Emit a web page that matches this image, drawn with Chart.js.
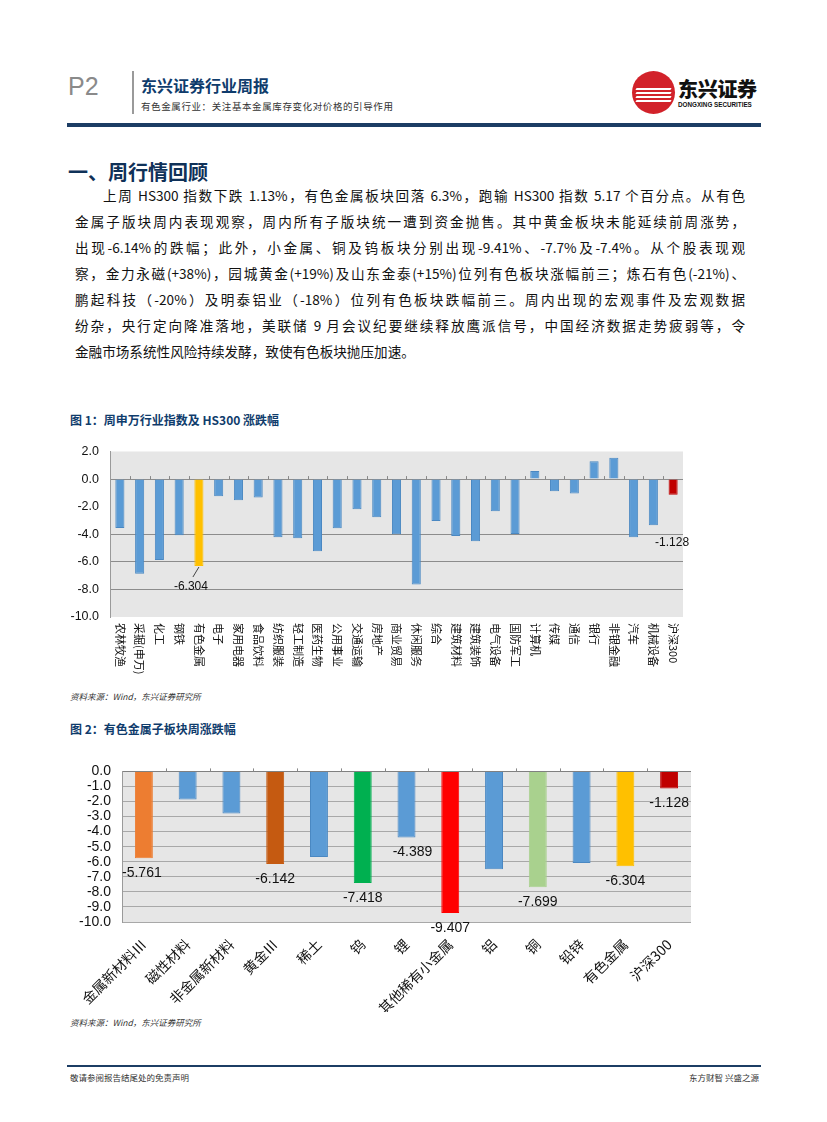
<!DOCTYPE html>
<html>
<head>
<meta charset="utf-8">
<script src="https://cdn.jsdelivr.net/npm/chart.js@4.4.1/dist/chart.umd.min.js"></script>
<style>
  body { margin: 0; background: #fff; font-family: "Noto Sans CJK SC", sans-serif; }
  .page { position: relative; width: 827px; height: 1122px; overflow: hidden; }
  .abs { position: absolute; white-space: nowrap; }
  .p2 { left: 68px; top: 72px; font: 300 25px "Liberation Sans", sans-serif; color: #8a8a8a; }
  .vbar { left: 132px; top: 71px; width: 2px; height: 43px; background: #9a9a9a; }
  .brand { left: 141px; top: 73px; font-size: 16px; font-weight: bold; color: #0f3c6c; }
  .sub { left: 141px; top: 99px; font-size: 9.5px; color: #333; letter-spacing: 0.6px; }
  .navy { left: 67px; top: 123px; width: 694px; height: 4px; background: #1c3d64; }
  .logo { left: 632px; top: 71px; width: 43px; height: 43px; border-radius: 50%; background: #d2222a; overflow: hidden; }
  .logo i { position: absolute; left: 4px; width: 35px; height: 2px; background: #fff; transform: skewX(-30deg); }
  .logotxt { left: 678px; top: 74px; font-size: 20px; font-weight: 900; color: #111; letter-spacing: -0.3px; }
  .logoen { left: 678px; top: 101px; font: bold 6.3px "Liberation Sans", sans-serif; color: #111; }
  .h1 { left: 68px; top: 157px; font-size: 20px; font-weight: bold; color: #0f3158; }
  .para { left: 75px; width: 670px; font-size: 13.6px; color: #111; text-align: justify; text-align-last: justify; line-height: 20px; }
  .fig { font-size: 12px; font-weight: bold; color: #0f3c6c; }
  .src { font-size: 8.5px; font-style: italic; color: #333; }
  .foot { top: 1065px; left: 67px; width: 694px; height: 2px; background: #1c3d64; }
  .ftxt { top: 1071px; font-size: 8.5px; color: #333; }
  canvas { position: absolute; }
</style>
</head>
<body>
<div class="page">
  <div class="abs p2">P2</div>
  <div class="abs vbar"></div>
  <div class="abs brand">东兴证券行业周报</div>
  <div class="abs sub">有色金属行业：关注基本金属库存变化对价格的引导作用</div>
  <div class="abs logo"><i style="top:17px"></i><i style="top:21px"></i><i style="top:25px"></i><i style="top:29px"></i></div>
  <div class="abs logotxt">东兴证券</div>
  <div class="abs logoen">DONGXING SECURITIES</div>
  <div class="abs navy"></div>

  <div class="abs h1">一、周行情回顾</div>

  <div class="abs para" style="top:185px;left:103px;width:642px">上周 HS300 指数下跌 1.13%，有色金属板块回落 6.3%，跑输 HS300 指数 5.17 个百分点。从有色</div>
  <div class="abs para" style="top:211px">金属子版块周内表现观察，周内所有子版块统一遭到资金抛售。其中黄金板块未能延续前周涨势，</div>
  <div class="abs para" style="top:237px">出现-6.14%的跌幅；此外，小金属、铜及钨板块分别出现-9.41%、-7.7%及-7.4%。从个股表现观</div>
  <div class="abs para" style="top:263px">察，金力永磁(+38%)，园城黄金(+19%)及山东金泰(+15%)位列有色板块涨幅前三；炼石有色(-21%)、</div>
  <div class="abs para" style="top:289px">鹏起科技（-20%）及明泰铝业（-18%）位列有色板块跌幅前三。周内出现的宏观事件及宏观数据</div>
  <div class="abs para" style="top:315px">纷杂，央行定向降准落地，美联储 9 月会议纪要继续释放鹰派信号，中国经济数据走势疲弱等，令</div>
  <div class="abs para" style="top:341px;text-align-last:left">金融市场系统性风险持续发酵，致使有色板块抛压加速。</div>

  <div class="abs fig" style="left:70px;top:411px">图 1：周申万行业指数及 HS300 涨跌幅</div>
  <canvas id="chart1" width="630" height="254" style="left:60px;top:433px;width:630px;height:254px"></canvas>
  <div class="abs src" style="left:70px;top:690px">资料来源：Wind，东兴证券研究所</div>

  <div class="abs fig" style="left:70px;top:720px">图 2：有色金属子板块周涨跌幅</div>
  <canvas id="chart2" width="640" height="260" style="left:60px;top:752px;width:640px;height:260px"></canvas>
  <div class="abs src" style="left:70px;top:1016px">资料来源：Wind，东兴证券研究所</div>

  <div class="abs foot"></div>
  <div class="abs ftxt" style="left:70px">敬请参阅报告结尾处的免责声明</div>
  <div class="abs ftxt" style="right:68px">东方财智 兴盛之源</div>
</div>

<script>
// 图1 数据
const industryLabels = ['农林牧渔', '采掘(申万)', '化工', '钢铁', '有色金属', '电子', '家用电器', '食品饮料',
  '纺织服装', '轻工制造', '医药生物', '公用事业', '交通运输', '房地产', '商业贸易', '休闲服务', '综合',
  '建筑材料', '建筑装饰', '电气设备', '国防军工', '计算机', '传媒', '通信', '银行', '非银金融', '汽车',
  '机械设备', '沪深300'];
const industryChange = [-3.54, -6.87, -5.86, -4.07, -6.304, -1.25, -1.54, -1.33, -4.22, -4.29, -5.23, -3.57,
  -2.19, -2.77, -4.00, -7.65, -3.04, -4.12, -4.50, -2.34, -3.98, 0.58, -0.89, -1.04, 1.30, 1.54, -4.22,
  -3.35, -1.128];
const industryTicks = [2, 0, -2, -4, -6, -8, -10];

// 图2 数据
const subLabels = ['金属新材料Ⅲ', '磁性材料', '非金属新材料', '黄金Ⅲ', '稀土', '钨', '锂', '其他稀有小金属',
  '铝', '铜', '铅锌', '有色金属', '沪深300'];
const subChange = [-5.761, -1.86, -2.80, -6.142, -5.68, -7.418, -4.389, -9.407, -6.49, -7.699, -6.08, -6.304, -1.128];
const subShowValue = [true, false, false, true, false, true, true, true, false, true, false, true, true];
const subTicks = [0, -1, -2, -3, -4, -5, -6, -7, -8, -9, -10];

const blue = '#5B9BD5';
const industryColors = industryLabels.map(l => l === '有色金属' ? '#FFC000' : (l === '沪深300' ? '#C00000' : blue));
const subColors = ['#ED7D31', blue, blue, '#C55A11', blue, '#00B050', blue, '#FF0000', blue, '#A9D18E', blue, '#FFC000', '#C00000'];

const plotBg = {
  id: 'plotBg',
  beforeDraw(chart) {
    const a = chart.chartArea, c = chart.ctx;
    c.save();
    c.fillStyle = '#e6e6e6';
    c.fillRect(a.left, a.top, a.right - a.left, a.bottom - a.top);
    c.restore();
  }
};

// 0 轴上类目分隔小刻度
const zeroTicks = {
  id: 'zeroTicks',
  afterDatasetsDraw(chart) {
    const x = chart.scales.x, y0 = chart.scales.y.getPixelForValue(0), c = chart.ctx;
    c.save();
    c.strokeStyle = '#888';
    c.lineWidth = 1;
    for (let i = 1; i < chart.data.labels.length; i++) {
      const px = Math.round((x.getPixelForValue(i - 1) + x.getPixelForValue(i)) / 2) + 0.5;
      c.beginPath(); c.moveTo(px, y0); c.lineTo(px, y0 - 3); c.stroke();
    }
    c.restore();
  }
};

const verticalLabels = {
  id: 'verticalLabels',
  afterDraw(chart) {
    const c = chart.ctx, x = chart.scales.x, top = chart.chartArea.bottom + 6;
    c.save();
    c.font = '11px "Noto Sans CJK SC"';
    c.fillStyle = '#111';
    c.textAlign = 'left';
    c.textBaseline = 'middle';
    chart.data.labels.forEach((l, i) => {
      c.save();
      c.translate(x.getPixelForValue(i), top);
      c.rotate(Math.PI / 2);
      c.fillText(l, 0, 0);
      c.restore();
    });
    // 数据标签
    const meta = chart.getDatasetMeta(0);
    c.font = '12px "Liberation Sans"';
    c.textAlign = 'center';
    const iY = industryLabels.indexOf('有色金属');
    const bY = meta.data[iY];
    c.strokeStyle = '#444';
    c.beginPath(); c.moveTo(bY.x, bY.y + 1); c.lineTo(bY.x - 6, bY.y + 11); c.stroke();
    c.fillText(industryChange[iY].toFixed(3), bY.x - 8, bY.y + 21);
    const iH = industryLabels.indexOf('沪深300');
    const bH = meta.data[iH];
    c.fillText(industryChange[iH].toFixed(3), bH.x - 1, bH.y + 48);
    c.restore();
  }
};

new Chart(document.getElementById('chart1'), {
  type: 'bar',
  data: {
    labels: industryLabels,
    datasets: [{
      data: industryChange,
      backgroundColor: industryColors,
      borderColor: industryColors.map(c => c === blue ? '#4a88c2' : c),
      borderWidth: 1,
      barPercentage: 0.92,
      categoryPercentage: 0.5
    }]
  },
  options: {
    responsive: false,
    animation: false,
    layout: { padding: { top: 7, right: 7, bottom: 70, left: 0 } },
    plugins: { legend: { display: false }, tooltip: { enabled: false } },
    scales: {
      x: { display: false },
      y: {
        min: -10, max: 2,
        afterFit(s) { s.width = 50; },
        afterBuildTicks(s) { s.ticks = industryTicks.map(v => ({ value: v })); },
        ticks: { padding: 11, color: '#111', font: { size: 12.5, family: 'Liberation Sans' }, callback: v => v.toFixed(1) },
        grid: {
          drawTicks: false,
          color: ctx => (ctx.tick && (ctx.tick.value === 2 || ctx.tick.value === -2 || ctx.tick.value === -10)) ? 'rgba(0,0,0,0)' : '#8c8c8c'
        },
        border: { display: true, color: '#9a9a9a' }
      }
    }
  },
  plugins: [plotBg, zeroTicks, verticalLabels]
});

const subValueLabels = {
  id: 'subValueLabels',
  afterDatasetsDraw(chart) {
    const c = chart.ctx, meta = chart.getDatasetMeta(0);
    c.save();
    c.font = '14px "Liberation Sans"';
    c.fillStyle = '#111';
    c.textAlign = 'center';
    c.textBaseline = 'middle';
    subChange.forEach((v, i) => {
      if (!subShowValue[i]) return;
      const b = meta.data[i];
      const dx = i === 6 ? 6 : (i === 0 ? -2 : 0);
      c.fillText(v.toFixed(3), b.x + dx, b.y + 15);
    });
    c.restore();
  }
};

new Chart(document.getElementById('chart2'), {
  type: 'bar',
  data: {
    labels: subLabels,
    datasets: [{
      data: subChange,
      backgroundColor: subColors,
      borderColor: subColors.map(c => c === blue ? '#4a88c2' : c),
      borderWidth: 1,
      barPercentage: 0.82,
      categoryPercentage: 0.5
    }]
  },
  options: {
    responsive: false,
    animation: false,
    layout: { padding: { top: 8, right: 9, bottom: 0, left: 0 } },
    plugins: { legend: { display: false }, tooltip: { enabled: false } },
    scales: {
      x: {
        afterFit(s) { s.height = 90; },
        grid: { display: false },
        border: { display: false },
        ticks: {
          autoSkip: false, minRotation: 45, maxRotation: 45, padding: 6,
          color: '#111', font: { size: 14, family: 'Noto Sans CJK SC' }
        }
      },
      y: {
        min: -10, max: 0,
        afterFit(s) { s.width = 62; },
        afterBuildTicks(s) { s.ticks = subTicks.map(v => ({ value: v })); },
        ticks: { autoSkip: false, padding: 11, color: '#111', font: { size: 14, family: 'Liberation Sans' }, callback: v => v.toFixed(1) },
        grid: { drawTicks: false, color: ctx => (ctx.tick && ctx.tick.value === 0) ? '#808080' : '#a8a8a8' },
        border: { display: true, color: '#9a9a9a' }
      }
    }
  },
  plugins: [plotBg, zeroTicks, subValueLabels]
});
</script>
</body>
</html>
